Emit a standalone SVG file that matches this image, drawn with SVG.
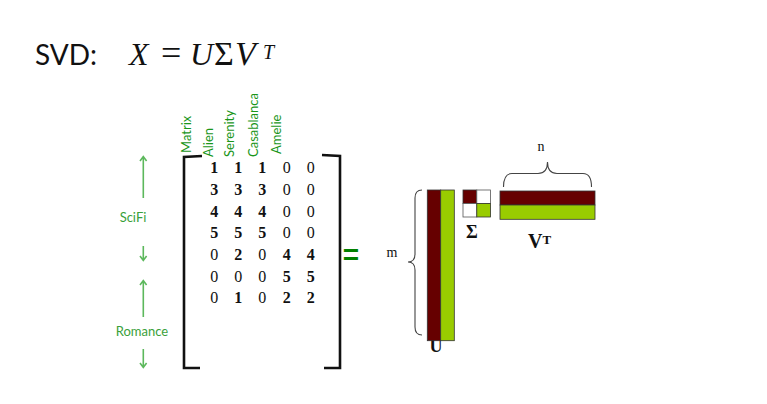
<svg xmlns="http://www.w3.org/2000/svg" width="767" height="404" viewBox="0 0 767 404">
<defs>
<style>
.title{font-family:Lato,"Open Sans",sans-serif;font-size:28px;fill:#111}
.math{font-family:"Liberation Serif","DejaVu Serif",serif;font-size:32px;fill:#111}
.mi{font-style:italic}
.hdr{font-family:Lato,"Open Sans",sans-serif;font-size:13px;fill:#1a961a}
.lbl{font-family:Lato,"Open Sans",sans-serif;font-size:13px;fill:#3a9f3a;text-anchor:middle}
.num{font-family:"Liberation Serif","Times New Roman",serif;font-size:16px;fill:#111;text-anchor:middle}
.b{font-weight:bold}
.arr{stroke:#5cb85c;stroke-width:1.6;fill:none}
.brk{stroke:#111;stroke-width:2.6;fill:none}
.brace{stroke:#444;stroke-width:1.1;fill:none}
.red{fill:#660000;stroke:#333;stroke-width:0.8}
.grn{fill:#99cc00;stroke:#333;stroke-width:0.8}
.wht{fill:#fff;stroke:#555;stroke-width:0.8}
.ser{font-family:"Liberation Serif","Times New Roman",serif;fill:#111}
</style>
</defs>

<g id="title">
<text class="title" x="35" y="65">SVD:</text>
<text class="math mi" x="129" y="65">X</text>
<text class="math" x="161" y="65" style="font-size:36px">=</text>
<text class="math mi" x="190" y="65">U</text>
<text class="math" x="214" y="65" style="font-size:34px">Σ</text>
<text class="math mi" x="235" y="65" style="font-size:34px">V</text>
<text class="math mi" x="263" y="59" style="font-size:20px">T</text>
</g>

<g id="headers">
<text class="hdr" transform="translate(190.5,153) rotate(-90)">Matrix</text>
<text class="hdr" transform="translate(213,157) rotate(-90)">Alien</text>
<text class="hdr" transform="translate(233.5,157) rotate(-90)">Serenity</text>
<text class="hdr" transform="translate(258,157) rotate(-90)">Casablanca</text>
<text class="hdr" transform="translate(280.5,154) rotate(-90)">Amelie</text>
</g>

<g id="genres">
<path class="arr" d="M143.3,157 L143.3,198 M140,161 L143.3,156.5 L146.6,161"/>
<text class="lbl" x="133" y="222">SciFi</text>
<path class="arr" d="M143.3,246 L143.3,260 M140,256 L143.3,260.5 L146.6,256"/>
<path class="arr" d="M143.3,281 L143.3,317 M140,285 L143.3,280.5 L146.6,285"/>
<text class="lbl" x="142" y="336">Romance</text>
<path class="arr" d="M143.3,349 L143.3,367 M140,363 L143.3,367.5 L146.6,363"/>
</g>

<g id="matrix">
<path class="brk" d="M202,156 L184,157 L184,368 L200,368"/>
<path class="brk" d="M322,155 L340,156 L340,368 L324,368"/>
<g class="num">
<text y="173"><tspan class="b" x="214.3">1</tspan><tspan class="b" x="238.3">1</tspan><tspan class="b" x="262.3">1</tspan><tspan x="286.7">0</tspan><tspan x="310.7">0</tspan></text>
<text y="195"><tspan class="b" x="214.3">3</tspan><tspan class="b" x="238.3">3</tspan><tspan class="b" x="262.3">3</tspan><tspan x="286.7">0</tspan><tspan x="310.7">0</tspan></text>
<text y="216.7"><tspan class="b" x="214.3">4</tspan><tspan class="b" x="238.3">4</tspan><tspan class="b" x="262.3">4</tspan><tspan x="286.7">0</tspan><tspan x="310.7">0</tspan></text>
<text y="238.3"><tspan class="b" x="214.3">5</tspan><tspan class="b" x="238.3">5</tspan><tspan class="b" x="262.3">5</tspan><tspan x="286.7">0</tspan><tspan x="310.7">0</tspan></text>
<text y="260"><tspan x="214.3">0</tspan><tspan class="b" x="238.3">2</tspan><tspan x="262.3">0</tspan><tspan class="b" x="286.7">4</tspan><tspan class="b" x="310.7">4</tspan></text>
<text y="281.7"><tspan x="214.3">0</tspan><tspan x="238.3">0</tspan><tspan x="262.3">0</tspan><tspan class="b" x="286.7">5</tspan><tspan class="b" x="310.7">5</tspan></text>
<text y="303"><tspan x="214.3">0</tspan><tspan class="b" x="238.3">1</tspan><tspan x="262.3">0</tspan><tspan class="b" x="286.7">2</tspan><tspan class="b" x="310.7">2</tspan></text>
</g>
</g>

<g id="equals">
<text x="351" y="264" style="font-family:'Liberation Sans',Arial,sans-serif;font-size:28px;font-weight:bold;fill:#008000;text-anchor:middle">=</text>
</g>

<g id="U">
<text class="ser b" x="436" y="352" style="font-size:18px;text-anchor:middle">U</text>
<rect class="red" x="427.3" y="190" width="13.4" height="150.7"/>
<rect class="grn" x="440.7" y="190" width="13.6" height="150.7"/>
<path class="brace" d="M422,190 Q415,190 415,198 L415,254 Q415,262 408,262 Q415,262 415,270 L415,327 Q415,335 422,335"/>
<text class="ser" x="392" y="257" style="font-size:14px;text-anchor:middle">m</text>
</g>

<g id="Sigma">
<rect class="red" x="463" y="190" width="13.8" height="13.5"/>
<rect class="wht" x="476.8" y="190" width="13.8" height="13.5"/>
<rect class="wht" x="463" y="203.5" width="13.8" height="13.5"/>
<rect class="grn" x="476.8" y="203.5" width="13.8" height="13.5"/>
<text class="ser b" x="472" y="238" style="font-size:18px;text-anchor:middle">Σ</text>
</g>

<g id="VT">
<rect class="red" x="500" y="191" width="95" height="14"/>
<rect class="grn" x="500" y="205" width="95" height="14.3"/>
<path class="brace" d="M503.5,187 Q503.5,173.5 512,173.5 L538,173.5 Q547.5,173.5 547.5,162 Q547.5,173.5 557,173.5 L583,173.5 Q591.5,173.5 591.5,187"/>
<text class="ser" x="541" y="150.5" style="font-size:14px;text-anchor:middle">n</text>
<text class="ser b" x="528" y="248" style="font-size:20px">V<tspan style="font-size:13px" dy="-4">T</tspan></text>
</g>
</svg>
